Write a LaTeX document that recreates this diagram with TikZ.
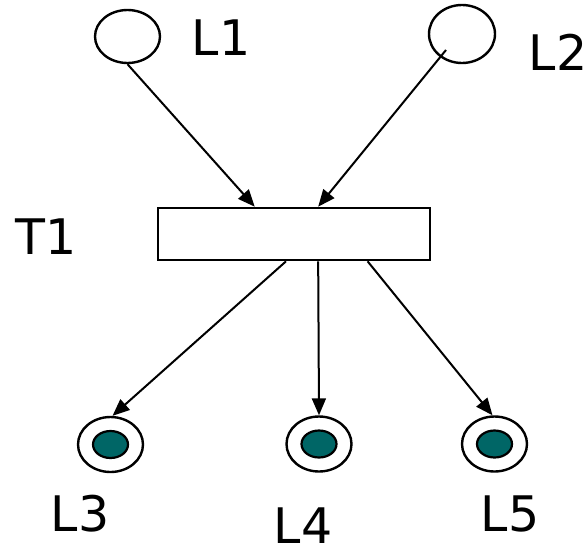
\documentclass[tikz,border=0pt]{standalone}
\usepackage{fontspec}
\setmainfont{DejaVu Sans}
\usetikzlibrary{shapes.geometric,arrows.meta,calc}
\definecolor{tokenteal}{RGB}{0,102,102}
\begin{document}
\begin{tikzpicture}[x=1pt,y=-1pt,
  place/.style={draw,line width=2.4pt,ellipse,inner sep=0pt,fill=white},
  token/.style={draw,line width=2.2pt,ellipse,inner sep=0pt,fill=tokenteal,minimum width=35pt,minimum height=27pt},
  trans/.style={draw,line width=2.6pt,rectangle,inner sep=0pt,minimum width=272pt,minimum height=52pt},
  lbl/.style={font=\fontsize{49}{52}\selectfont,inner sep=0pt},
  arc/.style={line width=2pt,-{Triangle[length=17pt,width=14pt]}}]
\useasboundingbox (0,0) rectangle (588,546);
\node[place,minimum width=65pt,minimum height=53pt] (l1) at (127.5,36.5) {};
\node[place,minimum width=66pt,minimum height=58pt] (l2) at (462,34) {};
\node[trans] (t1) at (294,234) {};
\node[place,minimum width=65pt,minimum height=55pt] (l3) at (110.5,444.5) {};
\node[place,minimum width=65pt,minimum height=55pt] (l4) at (319,444) {};
\node[place,minimum width=65pt,minimum height=55pt] (l5) at (494.5,444) {};
\node[token] (k3) at (l3.center) {};
\node[token] (k4) at (l4.center) {};
\node[token] (k5) at (l5.center) {};
\node[lbl] (n1) at (221,38) {L1};
\node[lbl] (n2) at (558,52) {L2};
\node[lbl] (nt) at (46,237) {T1};
\node[lbl] (n3) at (80,514) {L3};
\node[lbl] (n4) at (303,526) {L4};
\node[lbl] (n5) at (510,514) {L5};
\draw[arc] (l1.south) -- ($(t1.north west)!0.357!(t1.north east)$);
\draw[arc] ([shift={(-16pt,-16pt)}]l2.center) -- ($(t1.north west)!0.588!(t1.north east)$);
\draw[arc] ($(t1.south west)!0.471!(t1.south east)$) -- ([xshift=2pt]l3.north);
\draw[arc] ($(t1.south west)!0.588!(t1.south east)$) -- (l4.north);
\draw[arc] ($(t1.south west)!0.768!(t1.south east)$) -- ([xshift=-2pt]l5.north);
\end{tikzpicture}
\end{document}
